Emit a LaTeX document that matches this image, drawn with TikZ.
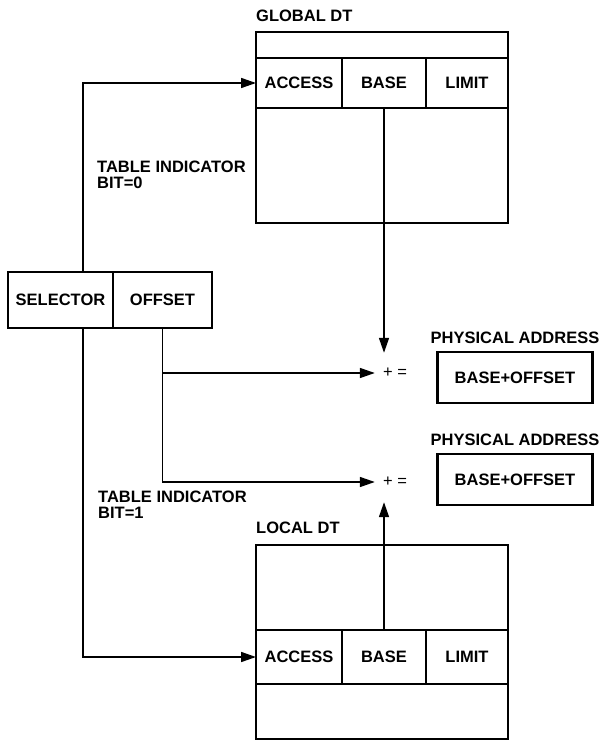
\documentclass[tikz,border=0pt]{standalone}
\usepackage{fontspec}
\setmainfont{Liberation Sans}
\usetikzlibrary{positioning,arrows.meta}

\begin{document}
\begin{tikzpicture}[x=1pt,y=-1pt,
    every node/.style={font=\fontsize{16.5}{16}\selectfont\bfseries},
    box/.style={draw,line width=2.8pt,inner sep=0pt,outer sep=0pt},
    title/.style={anchor=south west,inner sep=0pt},
    adder/.style={font=\fontsize{16.5}{16}\selectfont,inner sep=0pt,minimum width=40pt,minimum height=22pt},
    link/.style={line width=1.6pt,-{Triangle[length=15pt,width=10pt]}}]
    \useasboundingbox (0,0) rectangle (605,741);

    % Global descriptor table
    \node[box,minimum width=252pt,minimum height=26pt] (g_top) at (382,45) {};
    \node[box,minimum width=86pt,minimum height=50pt] (g_access) at (299,83) {ACCESS};
    \node[box,minimum width=84pt,minimum height=50pt,right=0pt of g_access] (g_base) {BASE};
    \node[box,minimum width=82pt,minimum height=50pt,right=0pt of g_base] (g_limit) {LIMIT};
    \node[box,minimum width=252pt,minimum height=115pt] (g_rest) at (382,165.5) {};
    \node[title] (g_title) at ([yshift=10pt]g_top.north west) {GLOBAL DT};

    % Selector register
    \node[box,minimum width=105pt,minimum height=56pt] (selector) at (60.5,300) {SELECTOR};
    \node[box,minimum width=99pt,minimum height=56pt,right=0pt of selector] (offset) {OFFSET};

    \node[anchor=west,align=left,inner sep=0pt] (ti_global) at (97,175) {TABLE INDICATOR\\BIT=0};
    \node[anchor=west,align=left,inner sep=0pt] (ti_local) at (98,505) {TABLE INDICATOR\\BIT=1};

    % Adders and physical addresses
    \node[adder] (sum_global) at (395,373) {+ =};
    \node[adder] (sum_local) at (395,482) {+ =};
    \node[box,minimum width=155pt,minimum height=51pt] (phys_global) at (515,377.5) {BASE+OFFSET};
    \node[inner sep=0pt,above=8pt of phys_global] (phys_global_label) {PHYSICAL ADDRESS};
    \node[box,minimum width=155pt,minimum height=51pt] (phys_local) at (515,479.5) {BASE+OFFSET};
    \node[inner sep=0pt,above=8pt of phys_local] (phys_local_label) {PHYSICAL ADDRESS};

    % Local descriptor table
    \node[box,minimum width=252pt,minimum height=85pt] (l_top) at (382,587.5) {};
    \node[box,minimum width=86pt,minimum height=54pt] (l_access) at (299,657) {ACCESS};
    \node[box,minimum width=84pt,minimum height=54pt,right=0pt of l_access] (l_base) {BASE};
    \node[box,minimum width=82pt,minimum height=54pt,right=0pt of l_base] (l_limit) {LIMIT};
    \node[box,minimum width=252pt,minimum height=55pt] (l_rest) at (382,711.5) {};
    \node[title] (l_title) at ([yshift=11pt]l_top.north west) {LOCAL DT};

    \draw[link] ([xshift=-30pt]selector.north east) |- (g_access.west);
    \draw[link] ([xshift=-30pt]selector.south east) |- (l_access.west);
    \draw[link] (offset.south) |- (sum_local.west);
    \draw[link] (offset.south |- sum_global.west) -- (sum_global.west);
    \draw[link,shorten >=9pt] (g_base.south) -- (g_base.south |- sum_global.north);
    \draw[link,shorten >=9pt] (l_base.north) -- (l_base.north |- sum_local.south);
\end{tikzpicture}
\end{document}
